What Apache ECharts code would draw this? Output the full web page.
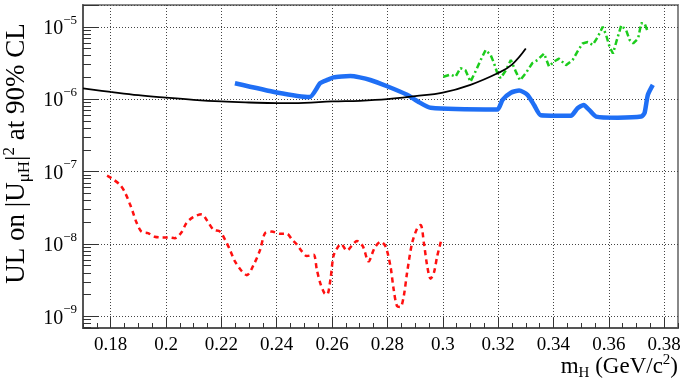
<!DOCTYPE html>
<html>
<head>
<meta charset="utf-8">
<script src="https://cdn.jsdelivr.net/npm/echarts@6/dist/echarts.min.js"></script>
<style>
  html, body { margin: 0; padding: 0; background: #fff; }
  #chart { width: 682px; height: 382px; }
</style>
</head>
<body>
<div id="chart"></div>
<script>
// red dashed curve
var redX = [0.1787, 0.1803, 0.1833, 0.1851, 0.1869, 0.1881, 0.1893, 0.1911, 0.1935, 0.1959,
  0.1984, 0.2008, 0.2032, 0.2056, 0.2074, 0.2098, 0.2129, 0.2147, 0.2171, 0.2195,
  0.2213, 0.2231, 0.2249, 0.2274, 0.2292, 0.2316, 0.2340, 0.2358, 0.2382, 0.2412,
  0.2437, 0.2455, 0.2473, 0.2491, 0.2509, 0.2533, 0.2545, 0.2557, 0.2572, 0.2582,
  0.2594, 0.2605, 0.2618, 0.2632, 0.2654, 0.2672, 0.2690, 0.2711, 0.2732, 0.2753,
  0.2775, 0.2793, 0.2811, 0.2823, 0.2835, 0.2847, 0.2859, 0.2871, 0.2889, 0.2908,
  0.2920, 0.2932, 0.2944, 0.2956, 0.2968, 0.2980, 0.2995]
var redY = [8.8e-8, 8.1e-8, 6.6e-8, 5.2e-8, 3.6e-8, 2.7e-8, 2.0e-8, 1.48e-8, 1.41e-8, 1.26e-8,
  1.23e-8, 1.23e-8, 1.2e-8, 1.45e-8, 1.95e-8, 2.35e-8, 2.57e-8, 2.14e-8, 1.58e-8, 1.48e-8,
  1.15e-8, 8.3e-9, 5.75e-9, 4.2e-9, 3.7e-9, 5.1e-9, 8.3e-9, 1.41e-8, 1.48e-8, 1.38e-8,
  1.38e-8, 1.15e-8, 9.8e-9, 7.9e-9, 6.8e-9, 7.1e-9, 4.4e-9, 2.9e-9, 2.1e-9, 2.0e-9,
  3.2e-9, 6.8e-9, 8.7e-9, 1.0e-8, 8.1e-9, 9.5e-9, 1.1e-8, 9.3e-9, 5.75e-9, 8.7e-9,
  1.07e-8, 9.3e-9, 4.9e-9, 2.3e-9, 1.38e-9, 1.35e-9, 1.9e-9, 4.0e-9, 1.02e-8, 1.66e-8,
  1.82e-8, 1.02e-8, 4.9e-9, 3.3e-9, 4.0e-9, 6.8e-9, 1.15e-8]

// black solid curve
var blackX = [0.17, 0.18, 0.19, 0.20, 0.21, 0.22, 0.23, 0.24, 0.25, 0.26,
  0.27, 0.28, 0.29, 0.30, 0.31, 0.32, 0.325, 0.33]
var blackY = [1.41e-6, 1.26e-6, 1.135e-6, 1.05e-6, 9.8e-7, 9.3e-7, 9.0e-7, 8.8e-7, 8.9e-7, 9.3e-7,
  9.5e-7, 1.0e-6, 1.1e-6, 1.23e-6, 1.58e-6, 2.3e-6, 3.0e-6, 5.0e-6]

// blue thick curve
var blueX = [0.2249, 0.24, 0.2519, 0.2557, 0.2585, 0.2605, 0.2635, 0.2666, 0.27, 0.2738,
  0.2799, 0.2871, 0.291, 0.2956, 0.3197, 0.3216, 0.3246, 0.3276, 0.3306, 0.3330,
  0.3354, 0.3463, 0.3487, 0.3509, 0.3529, 0.3554, 0.3632, 0.3717, 0.3729, 0.3741, 0.3759]
var blueY = [1.66e-6, 1.24e-6, 1.07e-6, 1.66e-6, 1.86e-6, 2.0e-6, 2.06e-6, 2.09e-6, 2.0e-6, 1.84e-6,
  1.51e-6, 1.15e-6, 9.3e-7, 7.6e-7, 7.2e-7, 9.8e-7, 1.23e-6, 1.32e-6, 1.15e-6, 8.3e-7,
  6.0e-7, 5.9e-7, 7.5e-7, 8.3e-7, 7.1e-7, 5.75e-7, 5.55e-7, 5.75e-7, 6.4e-7, 1.15e-6, 1.58e-6]

// green dash-dot curve
var greenX = [0.3002, 0.3028, 0.3046, 0.3064, 0.3082, 0.3100, 0.3118, 0.3137, 0.3155, 0.3173,
  0.3185, 0.3197, 0.3209, 0.3228, 0.3246, 0.3264, 0.3279, 0.3300, 0.3324, 0.3342,
  0.3366, 0.3384, 0.3402, 0.3420, 0.3445, 0.3469, 0.3487, 0.3505, 0.3524, 0.3542,
  0.3560, 0.3578, 0.3590, 0.3603, 0.3615, 0.3627, 0.3645, 0.3663, 0.3675, 0.3688,
  0.3706, 0.3717, 0.3729, 0.3741]
var greenY = [2.04e-6, 2.19e-6, 2.04e-6, 2.69e-6, 2.51e-6, 1.74e-6, 2.4e-6, 3.47e-6, 4.79e-6, 4.07e-6,
  3.16e-6, 2.29e-6, 1.95e-6, 2.51e-6, 3.47e-6, 2.4e-6, 1.82e-6, 2.29e-6, 3.16e-6, 3.47e-6,
  4.27e-6, 2.82e-6, 3.31e-6, 3.63e-6, 2.95e-6, 3.47e-6, 4.57e-6, 5.89e-6, 6.17e-6, 5.62e-6,
  7.24e-6, 1.0e-5, 7.76e-6, 5.25e-6, 4.27e-6, 6.17e-6, 1.05e-5, 8.9e-6, 6.6e-6, 5.89e-6,
  6.9e-6, 1.12e-5, 1.12e-5, 8.5e-6]

// x tick labels
var xTicks = [0.18, 0.2, 0.22, 0.24, 0.26, 0.28, 0.3, 0.32, 0.34, 0.36, 0.38]

var xMin = 0.17, xMax = 0.385
var yMin = 6.9e-10, yMax = 2.0e-5

function pairs(xs, ys) {
  return xs.map(function (x, i) { return [x, ys[i]] })
}

// minor x ticks every 0.005
var minorX = []
for (var t = 0; t <= 43; t++) {
  var xv = Math.round((xMin + t * 0.005) * 1000) / 1000
  if (xv <= xMax) minorX.push(xv)
}

// minor log ticks 2..9 x 10^n
var minorY = []
for (var e = -10; e <= -5; e++) {
  for (var k = 2; k <= 9; k++) {
    var v = k * Math.pow(10, e)
    if (v > yMin && v < yMax) minorY.push(v)
  }
}

var serif = 'Liberation Serif'
var axisColor = '#555'
var gridLine = { show: true, lineStyle: { color: '#444', type: [1, 2], width: 1 } }

var myChart = echarts.init(document.getElementById('chart'))
myChart.setOption({
  animation: false,
  backgroundColor: '#fff',
  grid: {
    left: 83, right: 4, top: 5, bottom: 54,
    show: true, borderColor: '#888', borderWidth: 2,
    outerBoundsMode: 'none'
  },
  xAxis: [{
    type: 'value',
    min: xMin, max: xMax,
    axisLine: { lineStyle: { color: axisColor, width: 2 } },
    axisTick: { inside: true, length: 10, customValues: xTicks, lineStyle: { color: '#333' } },
    splitLine: gridLine,
    axisLabel: {
      customValues: xTicks,
      color: '#000', fontFamily: serif, fontSize: 19, margin: 8
    },
    name: '{n|m}{sub|H}{n| (GeV/c}{sup|2}{n|)}',
    nameLocation: 'end',
    nameGap: 0,
    nameMoveOverlap: false,
    nameTextStyle: {
      align: 'right', verticalAlign: 'top', padding: [25, 0, 0, 0],
      rich: {
        n: { fontFamily: serif, fontSize: 23, lineHeight: 28, color: '#000' },
        sub: { fontFamily: serif, fontSize: 15, lineHeight: 15, verticalAlign: 'bottom', color: '#000' },
        sup: { fontFamily: serif, fontSize: 15, lineHeight: 15, verticalAlign: 'top', color: '#000' }
      }
    }
  }, {
    type: 'value',
    min: xMin, max: xMax,
    position: 'bottom',
    axisLine: { show: false },
    axisTick: { show: true, inside: true, length: 5, customValues: minorX, lineStyle: { color: '#333' } },
    axisLabel: { show: false },
    splitLine: { show: false }
  }],
  yAxis: [{
    type: 'log', logBase: 10,
    min: yMin, max: yMax,
    axisLine: { show: true, lineStyle: { color: axisColor, width: 2 } },
    axisTick: { show: true, inside: true, length: 16, lineStyle: { color: '#333' } },
    splitLine: gridLine,
    axisLabel: {
      margin: 6,
      formatter: function (value) {
        var p = Math.log10(value)
        if (Math.abs(p - Math.round(p)) > 1e-6) return ''
        return '{b|10}{s|\u2212' + (-Math.round(p)) + '}'
      },
      rich: {
        b: { fontFamily: serif, fontSize: 20, lineHeight: 26, color: '#000', padding: [4, 0, 0, 0] },
        s: { fontFamily: serif, fontSize: 13, lineHeight: 13, verticalAlign: 'top', color: '#000' }
      }
    },
    name: '{n|UL on |U}{sub|\u03bcH}{n||}{sup|2}{n| at 90% CL}',
    nameLocation: 'middle',
    nameGap: 50,
    nameMoveOverlap: false,
    nameTextStyle: {
      padding: [0, 0, 0, 26],
      rich: {
        n: { fontFamily: serif, fontSize: 27, lineHeight: 32, color: '#000' },
        sub: { fontFamily: serif, fontSize: 17, lineHeight: 17, verticalAlign: 'bottom', color: '#000' },
        sup: { fontFamily: serif, fontSize: 17, lineHeight: 17, verticalAlign: 'top', color: '#000' }
      }
    }
  }, {
    type: 'log', logBase: 10,
    min: yMin, max: yMax,
    position: 'left',
    axisLine: { show: false },
    axisTick: { show: true, inside: true, length: 8, customValues: minorY, lineStyle: { color: '#333' } },
    axisLabel: { show: false },
    splitLine: { show: false }
  }],
  series: [{
    type: 'line', data: pairs(blueX, blueY), showSymbol: false, smooth: 0.2,
    lineStyle: { color: '#1f6ff5', width: 4.5 }
  }, {
    type: 'line', data: pairs(redX, redY), showSymbol: false, smooth: 0.3,
    lineStyle: { color: '#ff1010', width: 2.5, type: [5, 4] }
  }, {
    type: 'line', data: pairs(greenX, greenY), showSymbol: false,
    lineStyle: { color: '#1ccc1c', width: 2.5, type: [6, 3, 2, 3] }
  }, {
    type: 'line', data: pairs(blackX, blackY), showSymbol: false, smooth: 0.4,
    lineStyle: { color: '#000', width: 1.8 }
  }]
})
</script>
</body>
</html>
